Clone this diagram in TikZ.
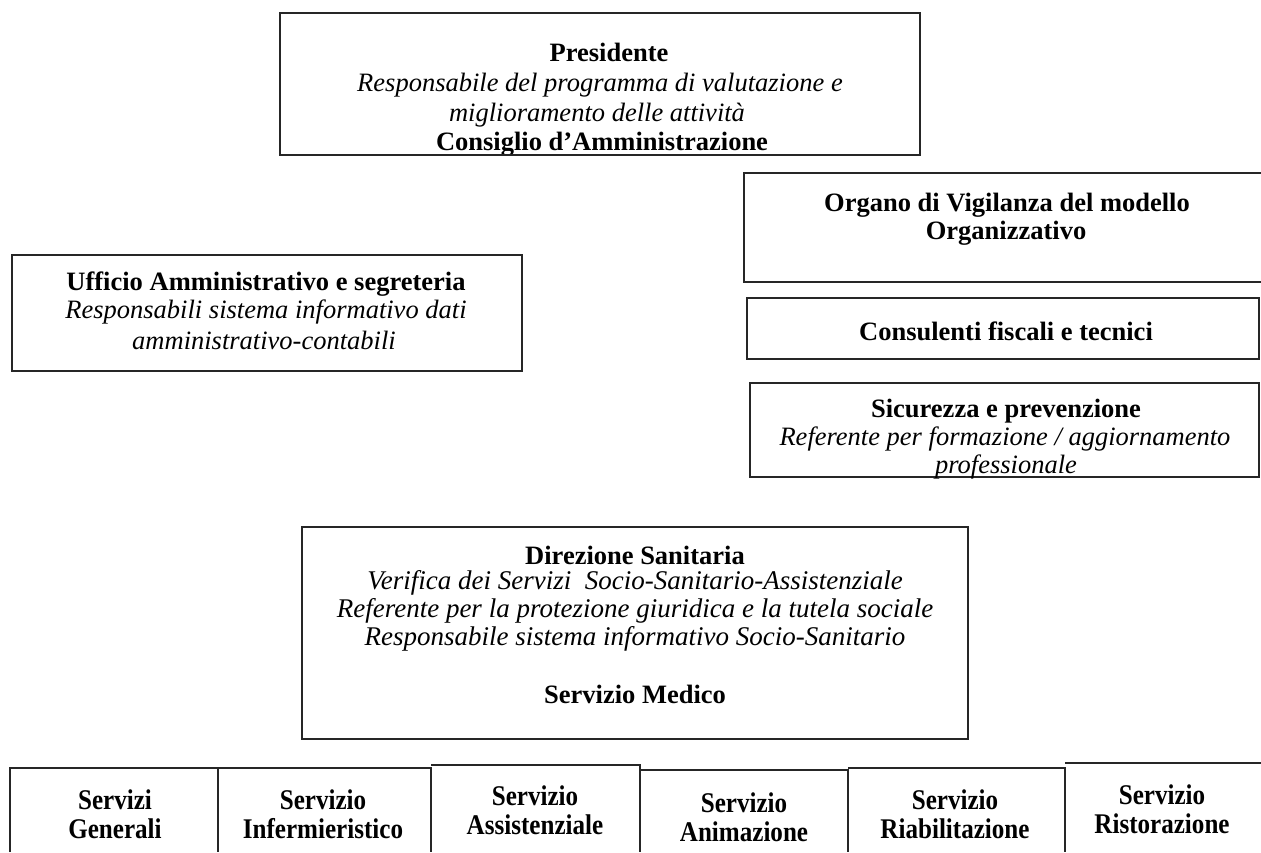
\documentclass[tikz,border=0pt]{standalone}
\usepackage{fontspec}
\setmainfont{Liberation Serif}
\newfontfamily\narrowbold[FakeStretch=0.88]{Liberation Serif Bold}
\begin{document}
\begin{tikzpicture}[x=1pt,y=-1pt,
  boxline/.style={draw=black!85,line width=1.3pt},
  txt/.style={inner sep=0pt,anchor=center,font=\fontsize{26.5}{28}\selectfont},
  btxt/.style={txt,font=\fontsize{26.5}{28}\selectfont\bfseries},
  itxt/.style={txt,font=\fontsize{26.5}{28}\selectfont\itshape},
  dtxt/.style={txt,font=\fontsize{27}{28}\selectfont\itshape},
  ntxt/.style={inner sep=0pt,anchor=center,align=center,font=\fontsize{28.5}{29}\selectfont\narrowbold}]
\useasboundingbox (0,0) rectangle (1261,852);
% Presidente
\begin{scope}
\clip (280,13) rectangle (920,155);
\node[btxt,anchor=base] (p1) at (609,61) {Presidente};
\node[itxt,anchor=base] (p2) at (600,91) {Responsabile del programma di valutazione e};
\node[itxt,anchor=base] (p3) at (597,121) {miglioramento delle attività};
\node[btxt,anchor=base] (p4) at (602,150) {Consiglio d’Amministrazione};
\end{scope}
\draw[boxline] (280,13) rectangle (920,155);
% Organo (open right)
\draw[boxline] (1261,173) -- (744,173) -- (744,282) -- (1261,282);
\node[btxt] (o1) at (1007,205) {Organo di Vigilanza del modello};
\node[btxt] (o2) at (1006,233) {Organizzativo};
% Consulenti
\draw[boxline] (747,298) rectangle (1259,359);
\node[btxt] (c1) at (1006,331) {Consulenti fiscali e tecnici};
% Sicurezza
\draw[boxline] (750,383) rectangle (1259,477);
\node[btxt] (s1) at (1006,411) {Sicurezza e prevenzione};
\node[itxt] (s2) at (1005,439) {Referente per formazione / aggiornamento};
\node[itxt] (s3) at (1006,467) {professionale};
% Ufficio
\draw[boxline] (12,255) rectangle (522,371);
\node[btxt] (u1) at (266,284) {Ufficio Amministrativo e segreteria};
\node[itxt] (u2) at (266,312) {Responsabili sistema informativo dati};
\node[itxt] (u3) at (264,340) {amministrativo-contabili};
% Direzione
\draw[boxline] (302,527) rectangle (968,739);
\node[btxt] (d1) at (635,555) {Direzione Sanitaria};
\node[dtxt] (d2) at (635,583) {Verifica dei Servizi\ \ Socio-Sanitario-Assistenziale};
\node[dtxt] (d3) at (635,611) {Referente per la protezione giuridica e la tutela sociale};
\node[dtxt] (d4) at (635,639) {Responsabile sistema informativo Socio-Sanitario};
\node[btxt] (d5) at (635,694) {Servizio Medico};
% bottom row
\draw[boxline] (10,852) -- (10,768) -- (218,768) -- (218,852);
\draw[boxline] (218,768) -- (431,768) -- (431,852);
\draw[boxline] (431,765) -- (640,765) -- (640,852);
\draw[boxline] (640,770) -- (848,770) -- (848,852);
\draw[boxline] (848,768) -- (1065,768) -- (1065,852);
\draw[boxline] (1065,763) -- (1261,763);
\node[ntxt] (b1) at (115,814) {Servizi\\Generali};
\node[ntxt] (b2) at (323,814) {Servizio\\Infermieristico};
\node[ntxt] (b3) at (535,810) {Servizio\\Assistenziale};
\node[ntxt] (b4) at (744,817) {Servizio\\Animazione};
\node[ntxt] (b5) at (955,814) {Servizio\\Riabilitazione};
\node[ntxt] (b6) at (1162,809) {Servizio\\Ristorazione};
\end{tikzpicture}
\end{document}
